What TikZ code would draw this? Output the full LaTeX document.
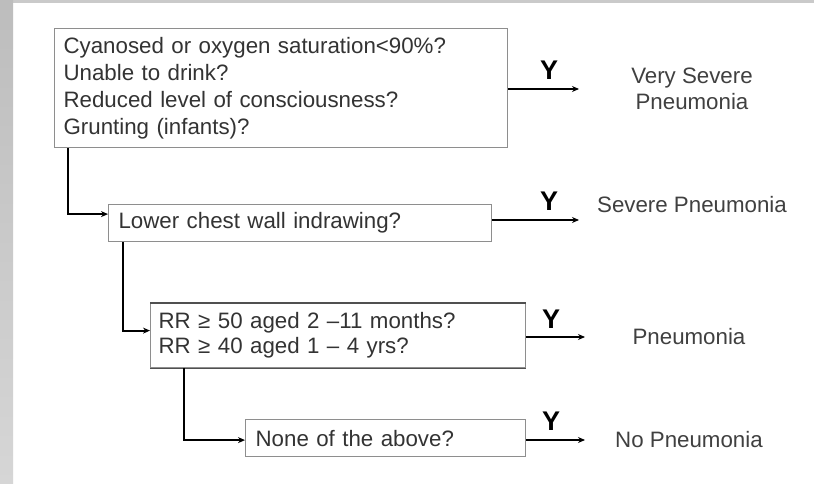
\documentclass[tikz,border=0pt]{standalone}
\usepackage{fontspec}
\setmainfont{Liberation Sans}
\usetikzlibrary{arrows.meta,calc}
\definecolor{boxline}{HTML}{8E8E8E}
\definecolor{boxdark}{HTML}{505050}
\definecolor{txt}{HTML}{333333}
\definecolor{outtxt}{HTML}{404040}
\definecolor{bandtop}{HTML}{BDBDBD}
\definecolor{bandbot}{HTML}{D6D6D6}
\tikzset{
  qbox/.style={draw=boxline, line width=1.2pt, anchor=north west, align=left,
    text=txt, inner xsep=9pt, inner ysep=0pt,
    font=\fontsize{22.3}{27}\selectfont},
  conn/.style={draw=black, line width=1.8pt, -{Stealth[length=7pt,width=6pt]}},
  ylab/.style={font=\fontsize{27}{27}\selectfont\bfseries, text=black, anchor=base},
  outlab/.style={text=outtxt, align=center, font=\fontsize{22.3}{26}\selectfont}
}
\begin{document}
\begin{tikzpicture}[x=1pt,y=-1pt]
\useasboundingbox (0,0) rectangle (814,484);
\fill[white] (0,0) rectangle (814,484);
\fill[bandtop!80!white] (0,0) rectangle (814,3);
\shade[top color=bandtop, bottom color=bandbot] (0,0) rectangle (13,484);

% boxes
\node[qbox, text width=435pt, minimum height=119pt] (b1) at (54,28)
  {Cyanosed or oxygen saturation<90\%?\\Unable to drink?\\Reduced level of consciousness?\\Grunting (infants)?};
\node[qbox, text width=363pt, inner xsep=10pt, minimum height=37pt] (b2) at (108,204)
  {Lower chest wall indrawing?};
\node[qbox, text width=359pt, inner xsep=8pt, minimum height=64pt,
  font=\fontsize{22.3}{25}\selectfont] (b3) at (150,303)
  {RR ≥ 50 aged 2 –11 months?\\RR ≥ 40 aged 1 – 4 yrs?};
\draw[boxdark, line width=1.4pt] (b3.north west) -- (b3.north east);
\draw[boxdark, line width=1.4pt] (b3.south west) -- (b3.south east);
\node[qbox, text width=260pt, inner xsep=10pt, minimum height=37pt] (b4) at (245,419)
  {None of the above?};

% outcomes
\node[outlab] (o1) at (692,89) {Very Severe\\Pneumonia};
\node[outlab] (o2) at (692,205) {Severe Pneumonia};
\node[outlab] (o3) at (689,337) {Pneumonia};
\node[outlab] (o4) at (689,440) {No Pneumonia};

% arrow ends
\coordinate (e1) at (579,89);
\coordinate (e2) at (579,220);
\coordinate (e3) at (585,337);
\coordinate (e4) at (585,440);

\draw[conn] (b1.east |- e1) -- (e1);
\draw[conn] (b2.east |- e2) -- (e2);
\draw[conn] (b3.east |- e3) -- (e3);
\draw[conn] (b4.east |- e4) -- (e4);

\node[ylab] (y1) at (549,80) {Y};
\node[ylab] (y2) at (549,210) {Y};
\node[ylab] (y3) at (551,328) {Y};
\node[ylab] (y4) at (551,430) {Y};

% connectors
\draw[conn] ([xshift=14pt]b1.south west) |- ([yshift=9pt]b2.west);
\draw[conn] ([xshift=15pt]b2.south west) |- ([yshift=5pt]b3.west);
\draw[conn] ([xshift=34pt]b3.south west) |- ([yshift=-2pt]b4.west);
\end{tikzpicture}
\end{document}
